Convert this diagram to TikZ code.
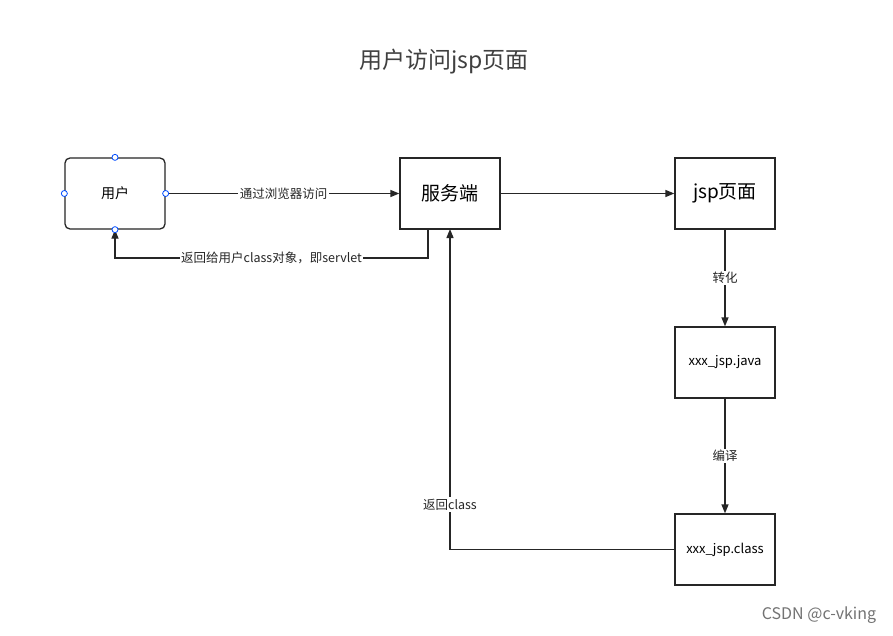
\documentclass[tikz,border=0pt]{standalone}
\usepackage{fontspec}
\setmainfont{Noto Sans CJK SC}
\usetikzlibrary{arrows.meta}
\begin{document}
\begin{tikzpicture}[x=1pt,y=-1pt,
  box/.style={draw=black!85,line width=1.3pt,minimum width=100pt,minimum height=71pt,inner sep=0pt},
  arr/.style={draw=black!85,line width=1.3pt,-{Triangle[length=9pt,width=7pt]}},
  lbl/.style={fill=white,inner sep=1.5pt,font=\fontsize{12.5}{14}\selectfont,text=black!85},
  handle/.style={circle,draw=blue!70!cyan,fill=white,line width=0.8pt,minimum size=6pt,inner sep=0pt}]
\useasboundingbox[fill=white] (0,0) rectangle (893,636);
\node[font=\fontsize{23}{26}\selectfont,text=black!75] (title) at (444,62) {用户访问jsp页面};
\node[box,rounded corners=5pt,font=\fontsize{14}{16}\selectfont] (u) at (115,193.5) {用户};
\node[box,font=\fontsize{19}{21}\selectfont] (s) at (450,193.5) {服务端};
\node[box,font=\fontsize{19}{21}\selectfont] (j) at (725,193.5) {jsp页面};
\node[box,font=\fontsize{13}{15}\selectfont] (jv) at (725,362.5) {xxx\_jsp.java};
\node[box,font=\fontsize{13}{15}\selectfont] (c) at (725,549.5) {xxx\_jsp.class};
\coordinate (s1) at (428,229);
\coordinate (r1) at (428,258);
\coordinate (sb) at (450,229);
\draw[arr] (u.east) -- node[lbl,pos=0.505]{通过浏览器访问} (s.west);
\draw[arr] (s.east) -- (j.west);
\draw[arr] (s1) -- (r1) -| node[lbl,pos=0.25]{返回给用户class对象，即servlet} (u.south);
\draw[arr] (j.south) -- node[lbl]{转化} (jv.north);
\draw[arr] (jv.south) -- node[lbl]{编译} (c.north);
\draw[arr] (c.west) -| node[lbl,pos=0.57]{返回class} (sb);
\node[handle] (h1) at (u.north) {};
\node[handle] (h2) at (u.south) {};
\node[handle] (h3) at (u.west) {};
\node[handle] (h4) at (u.east) {};
\node[font=\fontsize{16}{18}\selectfont,text=black!55] (wm) at (819,615) {CSDN @c-vking};
\end{tikzpicture}
\end{document}
